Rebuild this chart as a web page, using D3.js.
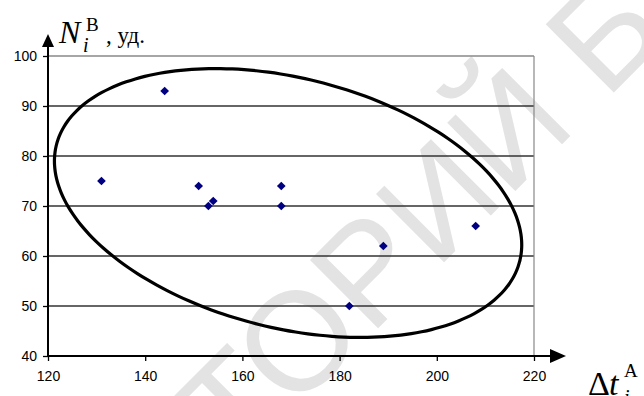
<!DOCTYPE html>
<html>
<head>
<meta charset="utf-8">
<script src="https://cdn.jsdelivr.net/npm/d3@7"></script>
<style>
  body { margin: 0; background: #fff; }
  svg { display: block; }
</style>
</head>
<body>
<div id="my_dataviz"></div>
<script>
// data
const dtA = [131, 144, 151, 153, 154, 168, 168, 182, 189, 208];
const nB  = [75, 93, 74, 70, 71, 74, 70, 50, 62, 66];
const xTicks = [120, 140, 160, 180, 200, 220];
const yTicks = [40, 50, 60, 70, 80, 90, 100];

// ellipse round the cloud (in data units: centre and two half-axis vectors)
const ellipseCenter = [169.4, 70.6];
const ellipseU = [47.7, -11.5];
const ellipseV = [-6.0, -24.3];

const W = 644, H = 396;

const svg = d3.select("#my_dataviz")
  .append("svg")
  .attr("width", W)
  .attr("height", H);

// watermark behind everything
svg.append("text")
  .attr("transform", "translate(349,305) rotate(-45)")
  .attr("text-anchor", "middle")
  .attr("dominant-baseline", "middle")
  .style("font-family", "Liberation Sans, Arial, sans-serif")
  .style("font-size", "140px")
  .style("fill", "#e3e3e3")
  .text("РЕПОЗИТОРИЙ БГУИР");

const x = d3.scaleLinear().domain([120, 220]).range([48, 534]);
const y = d3.scaleLinear().domain([40, 100]).range([356, 56]);

// grid lines
svg.append("g")
  .selectAll("line")
  .data(yTicks.filter(d => d > 40))
  .join("line")
    .attr("x1", x(120))
    .attr("x2", x(220))
    .attr("y1", d => y(d))
    .attr("y2", d => y(d))
    .attr("stroke", d => d === 100 ? "#888" : "#333")
    .attr("stroke-width", 1.3);

// right border of plot area
svg.append("line")
  .attr("x1", x(220)).attr("x2", x(220))
  .attr("y1", y(100)).attr("y2", y(40))
  .attr("stroke", "#888")
  .attr("stroke-width", 1.2);

// axes (ticks + labels)
const yAxis = svg.append("g")
  .attr("transform", `translate(${x(120)},0)`)
  .call(d3.axisLeft(y).tickValues(yTicks).tickSize(5).tickPadding(6));
const xAxis = svg.append("g")
  .attr("transform", `translate(0,${y(40)})`)
  .call(d3.axisBottom(x).tickValues(xTicks).tickSize(5).tickPadding(10));

[yAxis, xAxis].forEach(function(a) {
  a.select(".domain").remove();
  a.selectAll("line").attr("stroke", "#000").attr("stroke-width", 1.3);
  a.selectAll("text")
    .style("font-family", "Liberation Sans, Arial, sans-serif")
    .style("font-size", "14px")
    .attr("fill", "#000");
});

// axis lines with arrows
svg.append("line")
  .attr("x1", x(120)).attr("x2", x(120))
  .attr("y1", y(40)).attr("y2", 46)
  .attr("stroke", "#000").attr("stroke-width", 2);
svg.append("path")
  .attr("d", `M${x(120) - 6},47 L${x(120)},34 L${x(120) + 6},47 Z`)
  .attr("fill", "#000");

svg.append("line")
  .attr("x1", x(120)).attr("x2", 551)
  .attr("y1", y(40)).attr("y2", y(40))
  .attr("stroke", "#000").attr("stroke-width", 2);
svg.append("path")
  .attr("d", `M550,${y(40) - 7} L566,${y(40)} L550,${y(40) + 7} Z`)
  .attr("fill", "#000");

// ellipse
const ts = d3.range(0, 361, 3).map(a => a * Math.PI / 180);
const ellipsePts = ts.map(t => [
  ellipseCenter[0] + ellipseU[0] * Math.cos(t) + ellipseV[0] * Math.sin(t),
  ellipseCenter[1] + ellipseU[1] * Math.cos(t) + ellipseV[1] * Math.sin(t)
]);
svg.append("path")
  .datum(ellipsePts)
  .attr("d", d3.line().x(d => x(d[0])).y(d => y(d[1])).curve(d3.curveCardinalClosed))
  .attr("fill", "none")
  .attr("stroke", "#000")
  .attr("stroke-width", 3.2);

// points
svg.append("g")
  .selectAll("path")
  .data(dtA)
  .join("path")
    .attr("d", d3.symbol(d3.symbolSquare, 38))
    .attr("transform", (d, i) => `translate(${x(d)},${y(nB[i])}) rotate(45)`)
    .attr("fill", "#000080");

// axis titles
const serif = "Liberation Serif, Times New Roman, serif";
const yT = svg.append("g").style("font-family", serif).attr("fill", "#000");
yT.append("text").attr("x", 59).attr("y", 43)
  .style("font-size", "32px").style("font-style", "italic").text("N");
yT.append("text").attr("x", 86).attr("y", 31)
  .style("font-size", "19px").text("В");
yT.append("text").attr("x", 83).attr("y", 52)
  .style("font-size", "20px").style("font-style", "italic").text("i");
yT.append("text").attr("x", 106).attr("y", 43)
  .style("font-size", "23px").text(", уд.");

const xT = svg.append("g").style("font-family", serif).attr("fill", "#000");
xT.append("text").attr("x", 588).attr("y", 395)
  .style("font-size", "34px").text("Δ");
xT.append("text").attr("x", 609).attr("y", 395)
  .style("font-size", "34px").style("font-style", "italic").text("t");
xT.append("text").attr("x", 624).attr("y", 377)
  .style("font-size", "19px").text("A");
xT.append("text").attr("x", 624).attr("y", 404)
  .style("font-size", "20px").style("font-style", "italic").text("i");
</script>
</body>
</html>
